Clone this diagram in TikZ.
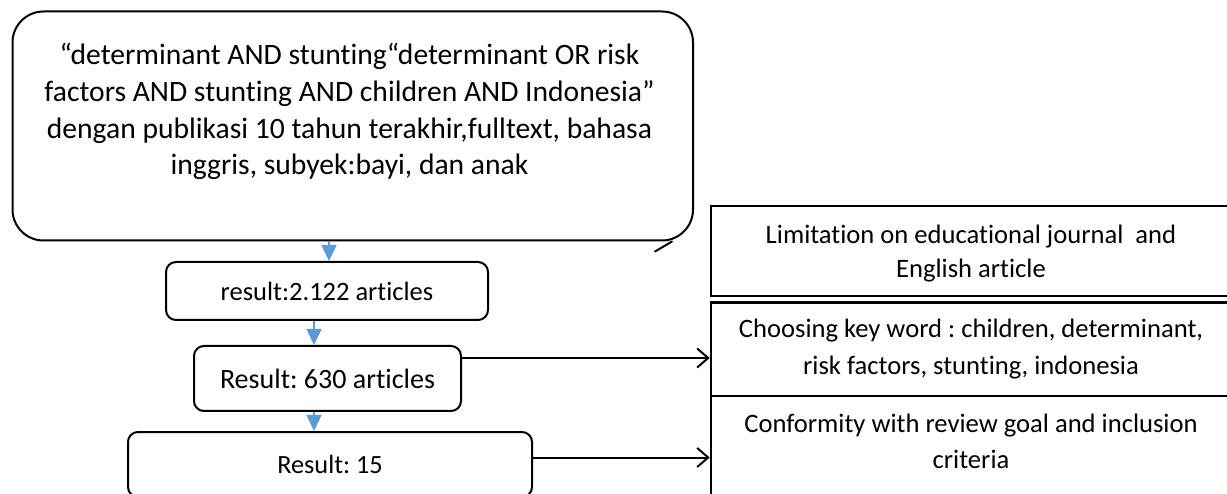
\documentclass[tikz,border=0pt]{standalone}
\usepackage{fontspec}
\setmainfont{Carlito}[Ligatures=CommonOff]
\usetikzlibrary{arrows.meta}
\definecolor{arrowblue}{RGB}{91,155,213}
\frenchspacing
\begin{document}
\begin{tikzpicture}[x=1pt,y=-1pt,
  boxline/.style={draw=black, line width=2pt},
  roundbox/.style={boxline, rounded corners=10pt, inner sep=0pt, align=center},
  sidebox/.style={draw=black, line width=2.6pt, inner sep=0pt},
  sidetext/.style={align=center, inner sep=0pt, anchor=base},
  bluearrow/.style={draw=arrowblue, line width=1.5pt, -{Triangle[width=15pt,length=16pt]}},
  blackarrow/.style={draw=black, line width=2pt, -{Straight Barb[length=11pt,width=19pt,line width=2pt]}},
]
\useasboundingbox (0,0) rectangle (1227,494);
\clip (0,0) rectangle (1227,494);

% top query box
\node[boxline, rounded corners=31pt, minimum width=680.5pt, minimum height=229pt, inner sep=0pt]
  (query) at (352.75,126) {};
\node[align=center, inner sep=0pt, anchor=base, font=\fontsize{29.6}{36.7}\selectfont]
  (querytext) at (349.5,175)
  {“determinant AND stunting“determinant OR risk\\
   factors AND stunting AND children AND Indonesia”\\
   dengan publikasi 10 tahun terakhir,fulltext, bahasa\\
   inggris, subyek:bayi, dan anak};
\draw[line width=2pt, line cap=round] ([xshift=-22pt]query.south east) -- ++(-17,10);

% left result boxes
\node[roundbox, minimum width=322pt, minimum height=58pt, font=\fontsize{26.5}{30}\selectfont]
  (res1) at (327,291) {result:2.122 articles};
\node[roundbox, minimum width=267pt, minimum height=65pt, font=\fontsize{28}{32}\selectfont]
  (res2) at (327.5,378.5) {Result: 630 articles};
\node[roundbox, minimum width=404pt, minimum height=65pt, font=\fontsize{26.3}{30}\selectfont]
  (res3) at (330,464.5) {Result: 15};

% right boxes
\node[sidebox, minimum width=520pt, minimum height=90pt] (r1) at (971,251) {};
\node[sidebox, minimum width=520pt, minimum height=93.3pt] (r2) at (971,349.35) {};
\node[sidebox, minimum width=520pt, minimum height=114pt] (r3) at (971,453) {};
\node[sidetext, font=\fontsize{26.6}{33.3}\selectfont] (t1) at (971,277.3)
  {Limitation on educational journal\ \ and\\ English article};
\node[sidetext, font=\fontsize{26.6}{36.7}\selectfont] (t2) at (971,374)
  {Choosing key word : children, determinant,\\ risk factors, stunting, indonesia};
\node[sidetext, font=\fontsize{26.6}{35.6}\selectfont] (t3) at (971,468.3)
  {Conformity with review goal and inclusion\\ criteria};

% blue vertical arrows
\coordinate (ax1) at (329,0);
\coordinate (ax2) at (314,0);
\draw[bluearrow] (query.south -| ax1) -- (res1.north -| ax1);
\draw[bluearrow] (res1.south -| ax2) -- (res2.north -| ax2);
\draw[bluearrow] (res2.south -| ax2) -- (res3.north -| ax2);

% black horizontal arrows
\draw[blackarrow] ([yshift=20.5pt]res2.east) -- ([yshift=20.5pt]res2.east -| r2.west);
\draw[blackarrow] ([yshift=7pt]res3.east) -- ([yshift=7pt]res3.east -| r3.west);
\end{tikzpicture}
\end{document}
